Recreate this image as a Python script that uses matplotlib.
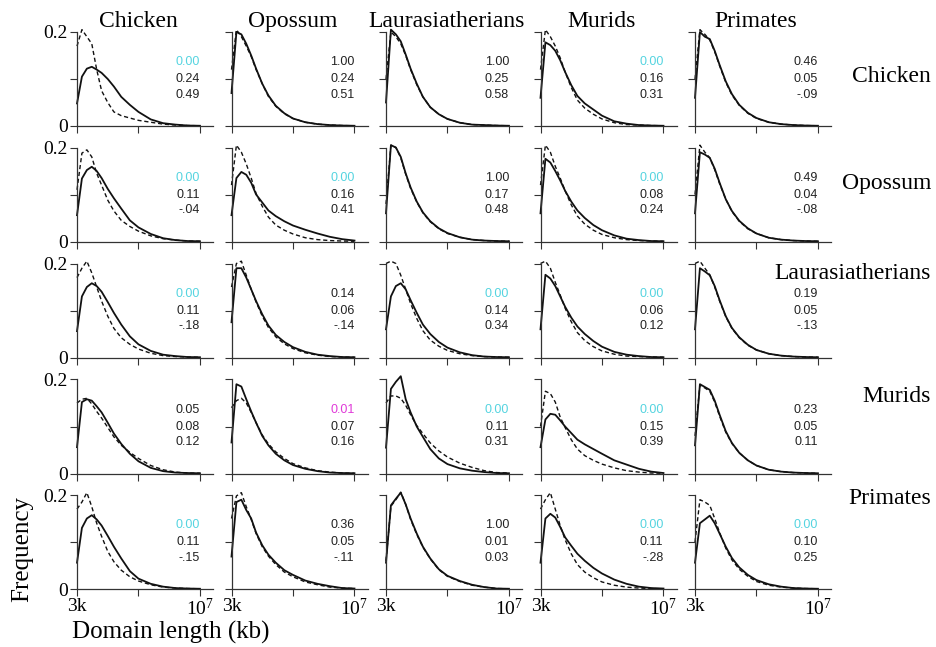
import numpy as np
import matplotlib.pyplot as plt
from matplotlib.ticker import NullLocator

SPECIES = ["Chicken", "Opossum", "Laurasiatherians", "Murids", "Primates"]

# domain length bins (bp), log spaced by eye from 3k to 10^7
LENGTHS = [3000, 4150, 5750, 7950, 11000, 15200, 22800, 34200, 55600,
           98000, 173000, 390000, 877000, 1970000, 4440000, 10000000]

# rows = species of the row label, columns = species of the title
solid_chicken = [
    [0.048, 0.105, 0.122, 0.126, 0.120, 0.113, 0.100, 0.084, 0.062, 0.045, 0.030, 0.014, 0.006, 0.003, 0.001, 0.0005],
    [0.070, 0.200, 0.195, 0.175, 0.150, 0.122, 0.090, 0.065, 0.043, 0.027, 0.016, 0.008, 0.004, 0.002, 0.001, 0.0005],
    [0.050, 0.205, 0.195, 0.180, 0.152, 0.122, 0.090, 0.062, 0.040, 0.025, 0.015, 0.007, 0.003, 0.002, 0.001, 0.0005],
    [0.060, 0.178, 0.172, 0.160, 0.140, 0.115, 0.087, 0.064, 0.048, 0.035, 0.022, 0.010, 0.005, 0.002, 0.001, 0.0005],
    [0.060, 0.200, 0.190, 0.185, 0.160, 0.130, 0.095, 0.068, 0.045, 0.028, 0.017, 0.008, 0.004, 0.002, 0.001, 0.0005],
]
dashed_chicken = [
    [0.170, 0.205, 0.190, 0.175, 0.120, 0.075, 0.050, 0.030, 0.022, 0.017, 0.012, 0.008, 0.004, 0.002, 0.001, 0.0005],
    [0.120, 0.205, 0.190, 0.170, 0.148, 0.120, 0.090, 0.063, 0.042, 0.026, 0.016, 0.008, 0.004, 0.002, 0.001, 0.0005],
    [0.100, 0.200, 0.190, 0.175, 0.150, 0.120, 0.088, 0.062, 0.040, 0.025, 0.015, 0.007, 0.003, 0.002, 0.001, 0.0005],
    [0.120, 0.205, 0.190, 0.170, 0.145, 0.115, 0.082, 0.055, 0.038, 0.025, 0.015, 0.007, 0.003, 0.002, 0.001, 0.0005],
    [0.100, 0.205, 0.195, 0.183, 0.158, 0.128, 0.093, 0.066, 0.044, 0.027, 0.016, 0.008, 0.004, 0.002, 0.001, 0.0005],
]
solid_opossum = [
    [0.056, 0.134, 0.152, 0.159, 0.150, 0.135, 0.112, 0.092, 0.070, 0.045, 0.030, 0.016, 0.007, 0.003, 0.001, 0.0005],
    [0.056, 0.135, 0.148, 0.142, 0.125, 0.100, 0.083, 0.066, 0.054, 0.043, 0.034, 0.025, 0.017, 0.010, 0.005, 0.002],
    [0.060, 0.205, 0.200, 0.180, 0.145, 0.115, 0.085, 0.062, 0.043, 0.028, 0.018, 0.009, 0.004, 0.002, 0.001, 0.0005],
    [0.060, 0.176, 0.168, 0.150, 0.130, 0.108, 0.085, 0.066, 0.050, 0.035, 0.024, 0.013, 0.006, 0.003, 0.001, 0.0005],
    [0.060, 0.190, 0.185, 0.178, 0.155, 0.125, 0.090, 0.065, 0.044, 0.028, 0.017, 0.008, 0.004, 0.002, 0.001, 0.0005],
]
dashed_opossum = [
    [0.110, 0.188, 0.195, 0.180, 0.145, 0.120, 0.088, 0.065, 0.045, 0.032, 0.022, 0.012, 0.006, 0.003, 0.001, 0.0005],
    [0.120, 0.205, 0.190, 0.165, 0.135, 0.102, 0.075, 0.052, 0.035, 0.024, 0.016, 0.008, 0.004, 0.002, 0.001, 0.0005],
    [0.080, 0.205, 0.200, 0.178, 0.143, 0.113, 0.084, 0.061, 0.042, 0.027, 0.017, 0.009, 0.004, 0.002, 0.001, 0.0005],
    [0.120, 0.205, 0.190, 0.160, 0.135, 0.108, 0.078, 0.054, 0.037, 0.024, 0.015, 0.008, 0.004, 0.002, 0.001, 0.0005],
    [0.100, 0.205, 0.190, 0.178, 0.153, 0.123, 0.090, 0.064, 0.043, 0.027, 0.017, 0.008, 0.004, 0.002, 0.001, 0.0005],
]
solid_laur = [
    [0.056, 0.130, 0.150, 0.158, 0.152, 0.140, 0.118, 0.095, 0.070, 0.045, 0.028, 0.014, 0.006, 0.003, 0.001, 0.0005],
    [0.075, 0.190, 0.190, 0.170, 0.145, 0.120, 0.092, 0.068, 0.048, 0.033, 0.022, 0.012, 0.006, 0.003, 0.001, 0.0005],
    [0.060, 0.130, 0.152, 0.158, 0.145, 0.122, 0.095, 0.070, 0.050, 0.033, 0.021, 0.011, 0.005, 0.002, 0.001, 0.0005],
    [0.060, 0.176, 0.168, 0.152, 0.130, 0.108, 0.085, 0.066, 0.050, 0.035, 0.023, 0.012, 0.006, 0.003, 0.001, 0.0005],
    [0.060, 0.190, 0.183, 0.175, 0.152, 0.122, 0.088, 0.063, 0.043, 0.027, 0.016, 0.008, 0.004, 0.002, 0.001, 0.0005],
]
dashed_laur = [
    [0.170, 0.190, 0.205, 0.180, 0.150, 0.120, 0.088, 0.062, 0.042, 0.028, 0.018, 0.009, 0.004, 0.002, 0.001, 0.0005],
    [0.150, 0.200, 0.205, 0.175, 0.145, 0.118, 0.088, 0.064, 0.044, 0.029, 0.019, 0.010, 0.005, 0.002, 0.001, 0.0005],
    [0.200, 0.205, 0.200, 0.175, 0.145, 0.115, 0.083, 0.057, 0.037, 0.024, 0.015, 0.008, 0.004, 0.002, 0.001, 0.0005],
    [0.200, 0.205, 0.190, 0.160, 0.133, 0.105, 0.076, 0.053, 0.036, 0.023, 0.014, 0.007, 0.003, 0.002, 0.001, 0.0005],
    [0.200, 0.205, 0.190, 0.176, 0.150, 0.120, 0.087, 0.062, 0.042, 0.026, 0.016, 0.008, 0.004, 0.002, 0.001, 0.0005],
]
solid_murids = [
    [0.056, 0.152, 0.158, 0.155, 0.143, 0.130, 0.108, 0.085, 0.063, 0.042, 0.026, 0.012, 0.005, 0.002, 0.001, 0.0005],
    [0.066, 0.190, 0.185, 0.158, 0.132, 0.108, 0.080, 0.060, 0.042, 0.028, 0.018, 0.010, 0.005, 0.002, 0.001, 0.0005],
    [0.055, 0.180, 0.195, 0.207, 0.158, 0.130, 0.100, 0.078, 0.052, 0.032, 0.020, 0.011, 0.006, 0.003, 0.001, 0.0005],
    [0.056, 0.115, 0.127, 0.125, 0.113, 0.100, 0.086, 0.072, 0.062, 0.052, 0.042, 0.028, 0.019, 0.010, 0.004, 0.001],
    [0.060, 0.190, 0.184, 0.178, 0.155, 0.125, 0.090, 0.065, 0.044, 0.028, 0.017, 0.008, 0.004, 0.002, 0.001, 0.0005],
]
dashed_murids = [
    [0.150, 0.158, 0.160, 0.148, 0.132, 0.118, 0.098, 0.078, 0.060, 0.045, 0.032, 0.017, 0.008, 0.003, 0.001, 0.0005],
    [0.140, 0.155, 0.160, 0.150, 0.130, 0.108, 0.082, 0.063, 0.046, 0.032, 0.021, 0.012, 0.006, 0.003, 0.001, 0.0005],
    [0.150, 0.165, 0.165, 0.160, 0.145, 0.125, 0.102, 0.085, 0.065, 0.048, 0.035, 0.022, 0.013, 0.006, 0.002, 0.001],
    [0.100, 0.175, 0.170, 0.152, 0.120, 0.098, 0.072, 0.052, 0.038, 0.028, 0.020, 0.012, 0.006, 0.003, 0.001, 0.0005],
    [0.080, 0.188, 0.182, 0.175, 0.152, 0.122, 0.088, 0.064, 0.044, 0.028, 0.017, 0.008, 0.004, 0.002, 0.001, 0.0005],
]
solid_primates = [
    [0.056, 0.130, 0.150, 0.157, 0.148, 0.135, 0.113, 0.090, 0.065, 0.038, 0.022, 0.011, 0.005, 0.002, 0.001, 0.0005],
    [0.069, 0.185, 0.190, 0.168, 0.150, 0.120, 0.093, 0.073, 0.056, 0.040, 0.030, 0.018, 0.011, 0.006, 0.002, 0.001],
    [0.056, 0.178, 0.192, 0.205, 0.180, 0.150, 0.118, 0.090, 0.065, 0.042, 0.028, 0.017, 0.009, 0.004, 0.001, 0.0005],
    [0.056, 0.150, 0.160, 0.152, 0.132, 0.110, 0.092, 0.075, 0.060, 0.045, 0.033, 0.020, 0.011, 0.005, 0.002, 0.001],
    [0.056, 0.140, 0.148, 0.156, 0.140, 0.118, 0.090, 0.066, 0.046, 0.030, 0.019, 0.010, 0.005, 0.002, 0.001, 0.0005],
]
dashed_primates = [
    [0.170, 0.185, 0.205, 0.175, 0.140, 0.112, 0.080, 0.058, 0.040, 0.026, 0.017, 0.009, 0.004, 0.002, 0.001, 0.0005],
    [0.150, 0.198, 0.205, 0.175, 0.148, 0.118, 0.090, 0.070, 0.052, 0.036, 0.026, 0.015, 0.009, 0.004, 0.002, 0.001],
    [0.060, 0.176, 0.190, 0.206, 0.180, 0.148, 0.116, 0.089, 0.064, 0.041, 0.027, 0.016, 0.008, 0.004, 0.001, 0.0005],
    [0.170, 0.190, 0.205, 0.170, 0.135, 0.105, 0.075, 0.052, 0.036, 0.024, 0.015, 0.008, 0.004, 0.002, 0.001, 0.0005],
    [0.100, 0.190, 0.185, 0.178, 0.150, 0.120, 0.087, 0.062, 0.042, 0.027, 0.016, 0.008, 0.004, 0.002, 0.001, 0.0005],
]

SOLID = [solid_chicken, solid_opossum, solid_laur, solid_murids, solid_primates]
DASHED = [dashed_chicken, dashed_opossum, dashed_laur, dashed_murids, dashed_primates]

# three statistics printed in each panel (top line is a p value)
P_TEXT = [
    ["0.00", "1.00", "1.00", "0.00", "0.46"],
    ["0.00", "0.00", "1.00", "0.00", "0.49"],
    ["0.00", "0.14", "0.00", "0.00", "0.19"],
    ["0.05", "0.01", "0.00", "0.00", "0.23"],
    ["0.00", "0.36", "1.00", "0.00", "0.00"],
]
D_TEXT = [
    ["0.24", "0.24", "0.25", "0.16", "0.05"],
    ["0.11", "0.16", "0.17", "0.08", "0.04"],
    ["0.11", "0.06", "0.14", "0.06", "0.05"],
    ["0.08", "0.07", "0.11", "0.15", "0.05"],
    ["0.11", "0.05", "0.01", "0.11", "0.10"],
]
R_TEXT = [
    ["0.49", "0.51", "0.58", "0.31", "-.09"],
    ["-.04", "0.41", "0.48", "0.24", "-.08"],
    ["-.18", "-.14", "0.34", "0.12", "-.13"],
    ["0.12", "0.16", "0.31", "0.39", "0.11"],
    ["-.15", "-.11", "0.03", "-.28", "0.25"],
]

X_TICKS = [3000, 173205, 1e7]
Y_TICKS = [0, 0.1, 0.2]


def pColor(p):
    v = float(p)
    if v < 0.01:
        return "#55d4e0"
    if v < 0.05:
        return "#e03ad8"
    return "#222222"


def Main():
    W, H = 936, 647
    fig = plt.figure(figsize=(W / 100, H / 100), dpi=100)
    serif = "Liberation Serif"
    sans = "Liberation Sans"

    col_left = [77, 231.5, 386, 540.5, 695]
    row_zero = [126, 241.5, 357.5, 473.5, 589]
    ax_w = 136
    ymax = 0.215
    ax_h = 94 * ymax / 0.2

    for r in range(5):
        for c in range(5):
            ax = fig.add_axes([col_left[c] / W, (H - row_zero[r]) / H, ax_w / W, ax_h / H])
            ax.plot(LENGTHS, DASHED[r][c], color="#111111", lw=1.0, ls=(0, (3, 2)), clip_on=False)
            ax.plot(LENGTHS, SOLID[r][c], color="#111111", lw=1.3, clip_on=False)
            ax.set_xscale("log")
            ax.set_xlim(3000, 2.36e7)
            ax.set_ylim(0, ymax)
            ax.spines["top"].set_visible(False)
            ax.spines["right"].set_visible(False)
            for s in ("left", "bottom"):
                ax.spines[s].set_color("#333333")
                ax.spines[s].set_linewidth(0.9)
            ax.spines["left"].set_bounds(0, 0.2)
            ax.set_xticks(X_TICKS)
            ax.xaxis.set_minor_locator(NullLocator())
            ax.set_yticks(Y_TICKS)
            ax.tick_params(direction="out", length=5, width=0.8, color="#333333",
                           labelsize=14, pad=1.5)
            if r == 4:
                ax.set_xticklabels(["3k", "", r"$\mathregular{10^7}$"], family=serif)
            else:
                ax.set_xticklabels([])
            if c == 0:
                ax.set_yticklabels(["0", "", "0.2"], family=serif)
            else:
                ax.set_yticklabels([])
            ax.set_facecolor("none")

            p = P_TEXT[r][c]
            ax.text(1e7, 0.136, p, ha="right", va="center", fontsize=9, family=sans, color=pColor(p))
            ax.text(1e7, 0.100, D_TEXT[r][c], ha="right", va="center", fontsize=9, family=sans, color="#222222")
            ax.text(1e7, 0.066, R_TEXT[r][c], ha="right", va="center", fontsize=9, family=sans, color="#222222")

    for c in range(5):
        fig.text((col_left[c] + 61) / W, 1 - 27 / H, SPECIES[c], ha="center", va="baseline",
                 fontsize=17, family=serif)

    row_label_y = [77, 183, 273, 397, 498]
    for r in range(5):
        fig.text(931 / W, 1 - row_label_y[r] / H, SPECIES[r], ha="right", va="center",
                 fontsize=17, family=serif)

    fig.text(22 / W, 1 - 549 / H, "Frequency", rotation=90, ha="center", va="center",
             fontsize=18, family=serif)
    fig.text(72 / W, 1 - 632 / H, "Domain length (kb)", ha="left", va="center",
             fontsize=18, family=serif)

    fig.savefig("out.png", dpi=100, facecolor="white")


if __name__ == "__main__":
    Main()
